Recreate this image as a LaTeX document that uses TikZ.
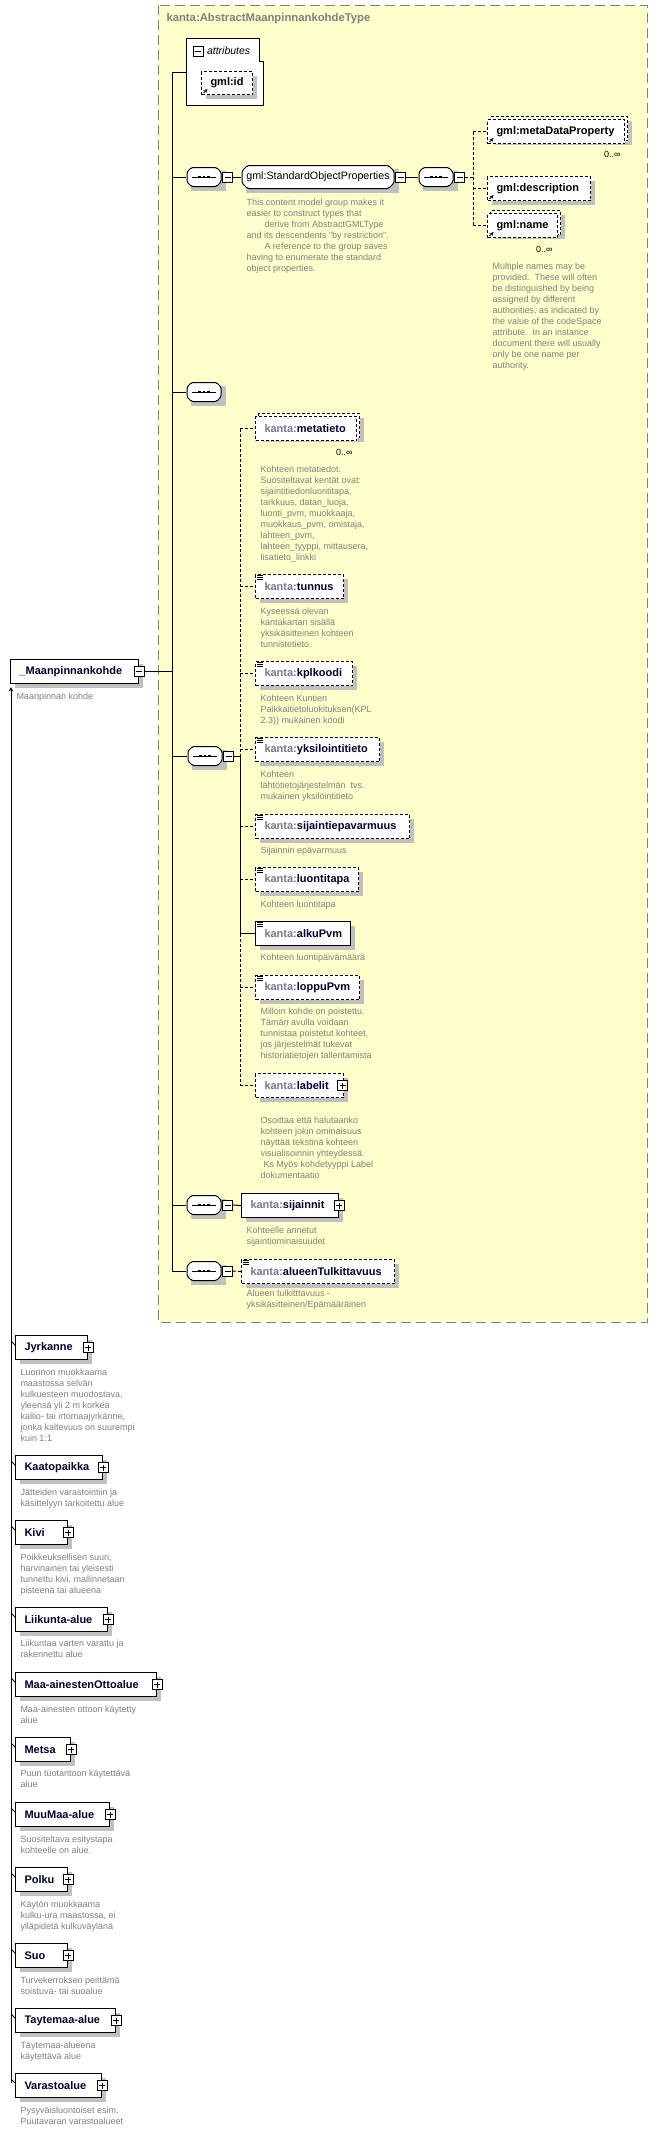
\documentclass[tikz,border=0pt]{standalone}
\usepackage{fontspec}
\setmainfont{Liberation Sans}
\usetikzlibrary{shadows,positioning}
\definecolor{panelbg}{RGB}{255,255,204}
\definecolor{panelrule}{RGB}{128,128,128}
\definecolor{shadowgrey}{RGB}{192,192,192}
\definecolor{docgrey}{RGB}{128,128,128}
\definecolor{prefgrey}{RGB}{120,120,140}
\definecolor{namenavy}{RGB}{0,0,48}
\newcommand{\elfont}{\fontsize{11}{13}\selectfont\bfseries\hyphenpenalty=10000\exhyphenpenalty=10000}
\newcommand{\docfont}{\fontsize{9}{11}\selectfont}
\newcommand{\grpfont}{\fontsize{10.7}{13}\selectfont}
\newcommand{\titlefont}{\fontsize{11.3}{13}\selectfont\bfseries}
\newcommand{\attfont}{\fontsize{10.5}{13}\selectfont\itshape}
\newcommand{\kpre}[1]{\textcolor{prefgrey}{kanta:}#1}
\newcommand{\simpmark}[1]{\foreach \k in {1.5,3.5,5.5} {\draw[line width=0.8pt] ([shift={(1.5,\k)}]#1.north west) -- ++(6,0);}}
\newcommand{\refmark}[1]{\draw[->,line width=0.8pt] ([shift={(2.5,-2)}]#1.south west) -- ++(4,-4);}
% chamfered outline drawn inside a node
\newcommand{\octpath}[1]{\draw[fill=white, rounded corners=1.5pt]
	([shift={(#1,-0.5pt)}]path picture bounding box.north west) -- ([shift={(-#1,-0.5pt)}]path picture bounding box.north east) --
	([shift={(-0.5pt,-#1)}]path picture bounding box.north east) -- ([shift={(-0.5pt,#1)}]path picture bounding box.south east) --
	([shift={(-#1,0.5pt)}]path picture bounding box.south east) -- ([shift={(#1,0.5pt)}]path picture bounding box.south west) --
	([shift={(0.5pt,#1)}]path picture bounding box.south west) -- ([shift={(0.5pt,-#1)}]path picture bounding box.north west) -- cycle;}
\begin{document}
\begin{tikzpicture}[
	x=1pt, y=-1pt,
	>=stealth,
	line width=1pt,
	every node/.style={inner sep=0pt},
	panel/.style={fill=panelbg, draw=panelrule, dash pattern=on 10pt off 5pt},
	opt/.style={dash pattern=on 3pt off 2pt},
	sh/.style={drop shadow={shadow xshift=4pt, shadow yshift=-4pt, fill=shadowgrey, opacity=1}},
	box/.style={draw, fill=white, anchor=north west, inner xsep=9pt, inner ysep=0pt, minimum height=24pt, text width=#1, align=left, font=\elfont, text=namenavy},
	elem/.style={box=#1, sh},
	comp/.style={rectangle, minimum width=35pt, minimum height=20pt, anchor=west, sh,
		path picture={\octpath{5pt}
			\draw[line width=0.8pt] ([xshift=-12pt]path picture bounding box.center) -- ([xshift=12pt]path picture bounding box.center);
			\foreach \d in {-4.5,0,4.5} \fill ([xshift=\d pt]path picture bounding box.center) +(-1.3pt,-1.3pt) rectangle +(1.3pt,1.3pt);}},
	grp/.style={rectangle, minimum width=153pt, minimum height=24pt, anchor=west, sh, font=\grpfont,
		path picture={\octpath{6pt}}},
	tminus/.style={draw, fill=white, minimum size=10pt,
		path picture={\draw[line width=0.8pt] ([xshift=2pt]path picture bounding box.west) -- ([xshift=-2pt]path picture bounding box.east);}},
	tplus/.style={draw, fill=white, minimum size=10pt,
		path picture={\draw[line width=0.8pt] ([xshift=2pt]path picture bounding box.west) -- ([xshift=-2pt]path picture bounding box.east);
			\draw[line width=0.8pt] ([yshift=2pt]path picture bounding box.south) -- ([yshift=-2pt]path picture bounding box.north);}},
	doc/.style={anchor=north west, font=\docfont, text=docgrey, align=left},
	occ/.style={anchor=north east, font=\docfont},
	]
	\useasboundingbox[fill=white] (0,0) rectangle (657,2131);
	% complex type panel
	\draw[panel] (158,5) rectangle (647,1322);
	\node[anchor=west, font=\titlefont, text=docgrey] (ttl) at (166,19) {kanta:AbstractMaanpinnankohdeType};

	% attributes
	\draw[fill=white] (186,38) -- (259,38) -- (259,61) -- (263,61) -- (263,105) -- (186,105) -- cycle;
	\node[tminus] (attm) at (198,51) {};
	\node[anchor=west, font=\attfont] (att) at ([xshift=3pt]attm.east) {attributes};
	\node[elem=33, opt, minimum height=23pt, text=black] (gid) at (201,71) {gml:id};
	\refmark{gid}

	% main spine
	\coordinate (spT) at (172,72);
	\coordinate (attw) at (186,72);
	\coordinate (spB) at (172,1271);
	\draw (spT) -- (attw);
	\draw (spT) -- (spB);

	% gml:StandardObjectProperties
	\node[comp] (seqA) at (186,177) {};
	\node[tminus, anchor=west] (seqAm) at (seqA.east) {};
	\node[grp] (sop) at (241,177) {gml:StandardObjectProperties};
	\node[tminus, anchor=west] (sopm) at (sop.east) {};
	\node[comp] (seqB) at (418,177) {};
	\node[tminus, anchor=west] (seqBm) at (seqB.east) {};
	\draw (seqAm.east) -- (sop.west);
	\draw (sopm.east) -- (seqB.west);

	\node[elem=119, opt] (mdpb) at (490,116) {};
	\node[box=119, opt, text=black] (mdp) at (487,119) {gml:metaDataProperty};
	\refmark{mdp}
	\node[occ] (mdpo) at ([shift={(-7,10)}]mdpb.south east) {0..∞};
	\node[elem=85, opt, text=black] (dsc) at (487,176) {gml:description};
	\refmark{dsc}
	\node[elem=52, opt] (namb) at (490,210) {};
	\node[box=52, opt, text=black] (nam) at (487,213) {gml:name};
	\refmark{nam}
	\node[occ] (namo) at ([shift={(-8,11)}]namb.south east) {0..∞};

	\coordinate (brB) at (473,177);
	\draw[opt] (seqBm.east) -- (brB);
	\draw[opt] (mdp.west -| brB) -- (nam.west -| brB);
	\foreach \n in {mdp,dsc,nam} {\draw[opt] (\n.west -| brB) -- (\n.west);}

	\node[doc] (sopd) at (246,198) {This content model group makes it\\easier to construct types that\\\hspace*{18pt}derive from AbstractGMLType\\and its descendents "by restriction".\\\hspace*{18pt}A reference to the group saves\\having to enumerate the standard\\object properties.};
	\node[doc] (namd) at (492,262) {Multiple names may be\\provided.\ \ These will often\\be distinguished by being\\assigned by different\\authorities, as indicated by\\the value of the codeSpace\\attribute.\ \ In an instance\\document there will usually\\only be one name per\\authority.};

	% empty sequence
	\node[comp] (seqC) at (186,392) {};

	% main sequence
	\node[comp] (seqD) at (187,756) {};
	\node[tminus, anchor=west] (seqDm) at (seqD.east) {};
	\coordinate (brD) at (240,756);
	\draw (seqDm.east) -- (brD);

	\node[elem=83, opt] (metab) at (258,413) {};
	\node[box=83, opt] (meta) at (255,416) {\kpre{metatieto}};
	\node[occ] (metao) at ([shift={(-7,11)}]metab.south east) {0..∞};
	\node[elem=70, opt] (tun) at (255,574) {\kpre{tunnus}};
	\node[elem=79, opt] (kpl) at (255,661) {\kpre{kplkoodi}};
	\node[elem=106, opt] (yks) at (255,737) {\kpre{yksilointitieto}};
	\node[elem=136, opt] (sije) at (255,814) {\kpre{sijaintiepavarmuus}};
	\node[elem=85, opt] (luo) at (255,867) {\kpre{luontitapa}};
	\node[elem=77] (alku) at (255,921) {\kpre{alkuPvm}};
	\node[elem=86, opt] (lop) at (255,975) {\kpre{loppuPvm}};
	\node[elem=70, opt] (lab) at (255,1073) {\kpre{labelit}};
	\node[tplus] (labp) at ([xshift=-1.5pt]lab.east) {};
	\foreach \n in {tun,kpl,yks,sije,luo,alku,lop} {\simpmark{\n}}

	\draw[opt] (meta.west -| brD) -- (brD);
	\draw (brD) -- (alku.west -| brD);
	\draw[opt] (alku.west -| brD) -- (lab.west -| brD);
	\foreach \n in {meta,tun,kpl,yks,sije,luo,lop,lab} {\draw[opt] (\n.west -| brD) -- (\n.west);}
	\draw (alku.west -| brD) -- (alku.west);

	\node[doc] (metad) at (260,465) {Kohteen metatiedot.\\Suositeltavat kentät ovat:\\sijaintitiedonluontitapa,\\tarkkuus, datan\_luoja,\\luonti\_pvm, muokkaaja,\\muokkaus\_pvm, omistaja,\\lahteen\_pvm,\\lahteen\_tyyppi, mittausera,\\lisatieto\_linkki};
	\node[doc] (tund) at (260,607) {Kyseessä olevan\\kantakartan sisällä\\yksikäsitteinen kohteen\\tunnistetieto.};
	\node[doc] (kpld) at (260,694) {Kohteen Kuntien\\Paikkaitietoluokituksen(KPL\\2.3)) mukainen koodi};
	\node[doc] (yksd) at (260,770) {Kohteen\\lähtötietojärjestelmän\ \ tvs.\\mukainen yksilöintitieto};
	\node[doc] (sijed) at (260,846) {Sijainnin epävarmuus};
	\node[doc] (luod) at (260,900) {Kohteen luontitapa};
	\node[doc] (alkud) at (260,953) {Kohteen luontipäivämäärä};
	\node[doc] (lopd) at (260,1007) {Milloin kohde on poistettu.\\Tämän avulla voidaan\\tunnistaa poistetut kohteet,\\jos järjestelmät tukevat\\historiatietojen tallentamista};
	\node[doc] (labd) at (260,1116) {Osoittaa että halutaanko\\kohteen jokin ominaisuus\\näyttää tekstinä kohteen\\visualisoinnin yhteydessä.\\\hspace*{3pt}Ks Myös kohdetyyppi Label\\dokumentaatio};

	% sijainnit
	\node[comp] (seqE) at (186,1205) {};
	\node[tminus, anchor=west] (seqEm) at (seqE.east) {};
	\node[elem=79] (sijn) at (241,1193) {\kpre{sijainnit}};
	\node[tplus] (sijnp) at (sijn.east) {};
	\draw (seqEm.east) -- (sijn.west);
	\node[doc] (sijnd) at (246,1226) {Kohteelle annetut\\sijaintiominaisuudet};

	% alueenTulkittavuus
	\node[comp] (seqF) at (186,1271) {};
	\node[tminus, anchor=west] (seqFm) at (seqF.east) {};
	\node[elem=135, opt] (alt) at (241,1259) {\kpre{alueenTulkittavuus}};
	\simpmark{alt}
	\draw[opt] (seqFm.east) -- (alt.west);
	\node[doc] (altd) at (246,1289) {Alueen tulkitttavuus -\\yksikäsitteinen/Epämääräinen};

	\foreach \n in {seqA,seqC,seqD,seqE,seqF} {\draw (\n.west -| spT) -- (\n.west);}

	% global element
	\node[elem=110] (mk) at (10,659) {\_Maanpinnankohde};
	\node[tminus] (mkm) at (mk.east) {};
	\draw (mkm.east) -- (mkm.east -| spT);
	\node[doc] (mkd) at (16,692) {Maanpinnan kohde};

	% substitution group members
	\node[elem=54] (jyr) at (15,1335) {Jyrkanne};
	\node[elem=69] (kaa) at (15,1455) {Kaatopaikka};
	\node[elem=34] (kiv) at (15,1520) {Kivi};
	\node[elem=74] (lii) at (15,1607) {Liikunta-alue};
	\node[elem=123] (maa) at (15,1672) {Maa-ainestenOttoalue};
	\node[elem=37] (mts) at (15,1737) {Metsa};
	\node[elem=76] (muu) at (15,1802) {MuuMaa-alue};
	\node[elem=34] (pol) at (15,1867) {Polku};
	\node[elem=34] (suo) at (15,1943) {Suo};
	\node[elem=82] (tay) at (15,2008) {Taytemaa-alue};
	\node[elem=68] (var) at (15,2073) {Varastoalue};
	\foreach \n in {jyr,kaa,kiv,lii,maa,mts,muu,pol,suo,tay,var} {
		\node[tplus] (\n p) at (\n.east) {};
		\draw[line width=0.8pt] ([shift={(-4,6)}]\n.north west) -- ([shift={(0,10)}]\n.north west);
	}
	\coordinate (subT) at ([shift={(1,3)}]mk.south west);
	\coordinate (subB) at ([shift={(-4,10)}]var.north west);
	\draw[<-] (subT) -- (subB);

	\node[doc] (jyrd) at (20,1368) {Luonnon muokkaama\\maastossa selvän\\kulkuesteen muodostava,\\yleensä yli 2 m korkea\\kallio- tai irtomaajyrkänne,\\jonka kaltevuus on suurempi\\kuin 1:1};
	\node[doc] (kaad) at (20,1488) {Jätteiden varastointiin ja\\käsittelyyn tarkoitettu alue};
	\node[doc] (kivd) at (20,1553) {Poikkeuksellisen suuri,\\harvinainen tai yleisesti\\tunnettu kivi, mallinnetaan\\pisteenä tai alueena};
	\node[doc] (liid) at (20,1639) {Liikuntaa varten varattu ja\\rakennettu alue};
	\node[doc] (maad) at (20,1705) {Maa-ainesten ottoon käytetty\\alue};
	\node[doc] (mtsd) at (20,1769) {Puun tuotantoon käytettävä\\alue};
	\node[doc] (muud) at (20,1835) {Suositeltava esitystapa\\kohteelle on alue.};
	\node[doc] (pold) at (20,1900) {Käytön muokkaama\\kulku-ura maastossa, ei\\ylläpidetä kulkuväylänä};
	\node[doc] (suod) at (20,1976) {Turvekerroksen peittämä\\soistuva- tai suoalue};
	\node[doc] (tayd) at (20,2041) {Täytemaa-alueena\\käytettävä alue};
	\node[doc] (vard) at (20,2106) {Pysyväisluontoiset esim.\\Puutavaran varastoalueet};
\end{tikzpicture}
\end{document}
